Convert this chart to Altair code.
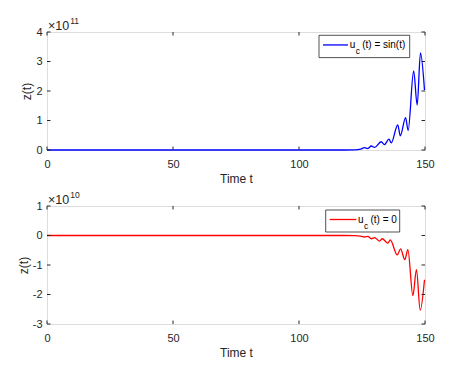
import altair as alt
import pandas as pd

# ---- data ----
t_top = [0, 118, 122, 124.5, 126.0, 127.3, 128.7, 130.0, 132.6, 133.9, 135.7, 136.6,
         139.2, 140.2, 142.3, 143.3, 145.5, 146.9, 148.2, 149.8]
z_top_e11 = [0, 0, 0.005, 0.03, 0.08, 0.05, 0.135, 0.09, 0.28, 0.18, 0.37, 0.24,
             0.85, 0.48, 1.10, 0.66, 2.68, 1.52, 3.29, 2.03]

t_bot = [0, 118, 122, 124.5, 126.0, 127.3, 128.7, 130.0, 132.0, 133.0, 135.3, 136.2,
         139.0, 140.3, 142.0, 143.2, 145.2, 146.6, 148.1, 149.8]
z_bot_e10 = [0, 0, -0.005, -0.02, -0.05, -0.03, -0.11, -0.07, -0.19, -0.11, -0.26, -0.15,
             -0.66, -0.45, -0.82, -0.48, -2.04, -1.16, -2.53, -1.5]

x_ticks = [0, 50, 100, 150]
y_ticks_top = [0, 1, 2, 3, 4]
y_ticks_bot = [-3, -2, -1, 0, 1]

W, H = 378, 118
FONT = "Liberation Sans"
INK = "#262626"
TICK = 3.5


def panel(t, z, yt, color, label_rest, exp_text, box, line_x, u_x):
    df = pd.DataFrame({"t": t, "z": z})
    xs = alt.X(
        "t:Q",
        scale=alt.Scale(domain=[0, 150], nice=False, zero=False),
        axis=alt.Axis(values=x_ticks, title="Time t", grid=False, domain=False,
                      ticks=False, tickSize=0, labelPadding=8, labelFlush=False,
                      labelFontSize=11, labelColor=INK, labelFont=FONT,
                      titleFont=FONT, titleFontSize=12, titleFontWeight="normal",
                      titleColor=INK, titlePadding=4),
    )
    ys = alt.Y(
        "z:Q",
        scale=alt.Scale(domain=[yt[0], yt[-1]], nice=False, zero=False),
        axis=alt.Axis(values=yt, title="z(t)", grid=False, domain=False,
                      ticks=False, tickSize=0, labelPadding=5, labelFlush=False,
                      labelExpr="toString(datum.value)",
                      labelFontSize=11, labelColor=INK, labelFont=FONT,
                      titleFont=FONT, titleFontSize=12, titleFontWeight="normal",
                      titleColor=INK, titlePadding=2),
    )
    line = alt.Chart(df).mark_line(color=color, strokeWidth=1.3,
                                   interpolate="monotone").encode(x=xs, y=ys)

    xt = pd.DataFrame({"t": x_ticks})
    ytdf = pd.DataFrame({"z": yt})
    tb = alt.Chart(xt).mark_rule(color=INK, strokeWidth=1).encode(
        x=xs, y=alt.value(H), y2=alt.value(H - TICK))
    tt = alt.Chart(xt).mark_rule(color=INK, strokeWidth=1).encode(
        x=xs, y=alt.value(0), y2=alt.value(TICK))
    tl = alt.Chart(ytdf).mark_rule(color=INK, strokeWidth=1).encode(
        y=ys, x=alt.value(0), x2=alt.value(TICK))
    tr = alt.Chart(ytdf).mark_rule(color=INK, strokeWidth=1).encode(
        y=ys, x=alt.value(W), x2=alt.value(W - TICK))

    one = pd.DataFrame({"a": [0]})
    x0, x1, y0, y1 = box
    lbox = alt.Chart(one).mark_rect(fill="white", stroke=INK, strokeWidth=0.8).encode(
        x=alt.value(x0), x2=alt.value(x1), y=alt.value(y0), y2=alt.value(y1))
    ly = (y0 + y1) / 2 - 1.5
    lline = alt.Chart(one).mark_rule(color=color, strokeWidth=1.3).encode(
        x=alt.value(line_x[0]), x2=alt.value(line_x[1]), y=alt.value(ly))
    tu = alt.Chart(one).mark_text(text="u", font=FONT, fontSize=10, color="black",
                                  align="left", baseline="middle").encode(
        x=alt.value(u_x), y=alt.value(ly))
    tc = alt.Chart(one).mark_text(text="c", font=FONT, fontSize=8.5, color="black",
                                  align="left", baseline="middle").encode(
        x=alt.value(u_x + 6), y=alt.value(ly + 6.5))
    trest = alt.Chart(one).mark_text(text=label_rest, font=FONT, fontSize=10, color="black",
                                     align="left", baseline="middle").encode(
        x=alt.value(u_x + 12.5), y=alt.value(ly))

    ex1 = alt.Chart(one).mark_text(text="×10", font=FONT, fontSize=12.5, color=INK,
                                   align="left", baseline="middle").encode(
        x=alt.value(1), y=alt.value(-6))
    ex2 = alt.Chart(one).mark_text(text=exp_text, font=FONT, fontSize=8.5, color=INK,
                                   align="left", baseline="middle").encode(
        x=alt.value(23.2), y=alt.value(-11))

    return alt.layer(line, tb, tt, tl, tr, lbox, lline, tu, tc, trest, ex1, ex2).properties(
        width=W, height=H)


top = panel(t_top, z_top_e11, y_ticks_top, "#0000FF", "(t) = sin(t)", "11",
            (272, 362.7, 3.3, 25.6), (276, 301), 302.7)
bot = panel(t_bot, z_bot_e10, y_ticks_bot, "#FF0000", "(t) = 0", "10",
            (278.7, 352.7, 4, 26), (282.7, 309.3), 311)

chart = alt.vconcat(top, bot, spacing=5).properties(
    padding={"left": 8, "top": 8, "right": 0, "bottom": 0}
).configure_view(stroke=INK, strokeWidth=1).configure(background="white")

chart.save("out.html", embed_options={"renderer": "svg", "actions": False})
